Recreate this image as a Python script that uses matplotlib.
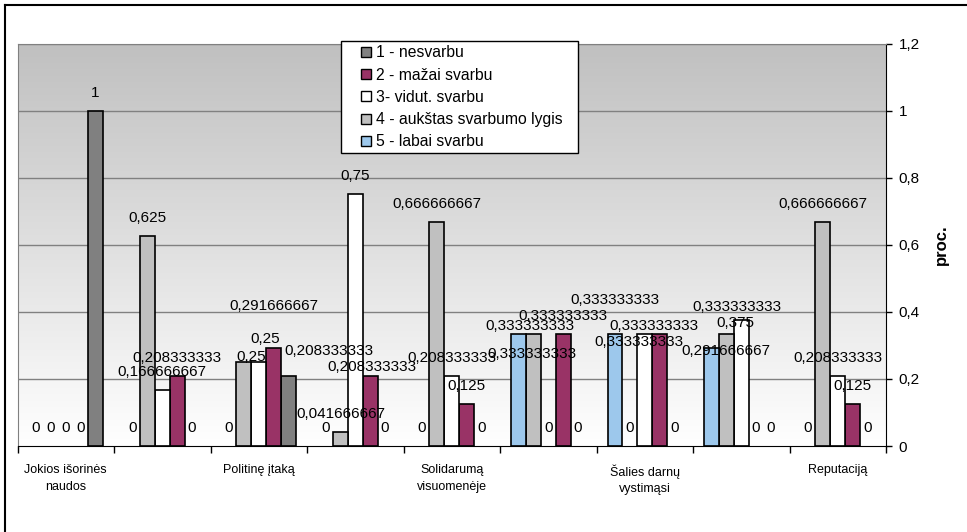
import numpy as np
import matplotlib.pyplot as plt
from matplotlib.patches import Rectangle
from matplotlib.lines import Line2D

plt.rcParams['font.family'] = ['Liberation Sans', 'DejaVu Sans']

# categories (only every second one carries a visible label)
categories = ['Jokios išorinės\nnaudos', '', 'Politinę įtaką', '',
              'Solidarumą\nvisuomenėje', '', 'Šalies darnų\nvystimąsi', '',
              'Reputaciją']
series_names = ['1 - nesvarbu', '2 - mažai svarbu', '3- vidut. svarbu',
                '4 - aukštas svarbumo lygis', '5 - labai svarbu']

nesvarbu = [1, 0, 0.208333333, 0, 0, 0, 0, 0, 0]
mazai = [0, 0.208333333, 0.291666667, 0.208333333, 0.125,
         0.333333333, 0.333333333, 0, 0.125]
vidut = [0, 0.166666667, 0.25, 0.75, 0.208333333, 0,
         0.333333333, 0.375, 0.208333333]
aukstas = [0, 0.625, 0.25, 0.041666667, 0.666666667, 0.333333333,
           0, 0.333333333, 0.666666667]
labai = [0, 0, 0, 0, 0, 0.333333333, 0.333333333, 0.291666667, 0]

series = [nesvarbu, mazai, vidut, aukstas, labai]
colors = ['#808080', '#993366', '#FFFFFF', '#C0C0C0', '#9DC8EC']

# manual nudges of some value labels (pixels, right / down)
label_nudge = {
    (2, 3): (7, 12.7), (2, 2): (6, -5), (2, 1): (0, -24), (2, 0): (40, -7),
    (3, 1): (2, 9),
    (5, 4): (13, 38), (5, 3): (-3.6, 10),
    (6, 4): (0, -16), (6, 2): (-5.4, 25.4), (6, 1): (-6, 9.4),
    (7, 4): (14.6, 20.4), (7, 3): (10.5, -9.6), (7, 2): (-6.3, 21),
}

DPI = 100
W, H = 967, 532
px = 72 / DPI


def fmt(v):
    s = f'{v:.9f}'.rstrip('0').rstrip('.')
    return s.replace('.', ',')


fig = plt.figure(figsize=(W / DPI, H / DPI), dpi=DPI)
ax = fig.add_axes([17.5 / W, 1 - 446 / H, (886 - 17.5) / W, (446 - 43.5) / H])

n = len(categories)
x = np.arange(n)
w = 1 / 6.5

# gradient plot area
grad = np.linspace(1.0, 0.753, 256)
img = np.stack([grad, grad, grad], axis=-1).reshape(256, 1, 3)
ax.imshow(img, extent=(-0.5, n - 0.5, 0, 1.2), aspect='auto', origin='lower', zorder=0)

for yv in np.arange(0.2, 1.21, 0.2):
    ax.axhline(yv, color='#808080', lw=1, zorder=1)

# series 5 on the left ... series 1 on the right of each group
for si, vals in enumerate(series):
    pos = 4 - si
    xs = x + (pos - 2) * w
    edges = ['black' if v > 0 else 'none' for v in vals]
    ax.bar(xs, vals, width=w, color=colors[si], edgecolor=edges, linewidth=1.2, zorder=2)
    for ci, v in enumerate(vals):
        dx, dy = label_nudge.get((ci, si), (0, 0))
        ax.annotate(fmt(v), (xs[ci], v), xytext=(dx * px, (18 - dy) * px),
                    textcoords='offset points', ha='center', va='center',
                    fontsize=11, zorder=3, annotation_clip=False)

ax.set_xlim(-0.5, n - 0.5)
ax.set_ylim(0, 1.2)

# category boundaries as tick marks, names under group centres
ax.set_xticks(np.arange(n + 1) - 0.5)
ax.set_xticklabels([])
ax.set_xticks(x, minor=True)
ax.set_xticklabels(categories, minor=True, fontsize=9, linespacing=1.5)
ax.tick_params(axis='x', which='major', length=5, width=1, direction='out')
ax.tick_params(axis='x', which='minor', length=0, pad=13)

ax.yaxis.tick_right()
ax.yaxis.set_label_position('right')
yt = np.round(np.arange(0, 1.21, 0.2), 1)
ax.set_yticks(yt)
ax.set_yticklabels([fmt(v) for v in yt], fontsize=11)
ax.tick_params(axis='y', length=4, width=1, direction='out', pad=5)
ax.set_ylabel('proc.', fontsize=12, fontweight='bold', labelpad=10)

for s in ['left', 'top']:
    ax.spines[s].set_color('#808080')
for s in ['right', 'bottom']:
    ax.spines[s].set_color('black')

# legend: white box with black outline, square markers
fig.add_artist(Rectangle((340.7 / W, 1 - 153 / H), (578 - 340.7) / W, (153 - 40.7) / H,
                         transform=fig.transFigure, facecolor='white',
                         edgecolor='black', lw=1, zorder=4))
handles = [Line2D([], [], ls='none', marker='s', markersize=7, markerfacecolor=c,
                  markeredgecolor='black', markeredgewidth=1) for c in colors]
fig.legend(handles, series_names, loc='upper left',
           bbox_to_anchor=(358.2 / W, 1 - 45.4 / H), borderaxespad=0,
           borderpad=0, fontsize=11.3, frameon=False, handlelength=1,
           handletextpad=0.13, labelspacing=0.46).set_zorder(5)

# outer chart border (top and left edges)
fig.add_artist(Line2D([5 / W, 5 / W], [0, 1 - 5 / H], color='black', lw=1.5))
fig.add_artist(Line2D([5 / W, 1], [1 - 5 / H, 1 - 5 / H], color='black', lw=1.5))

fig.savefig('out.png', dpi=DPI)
